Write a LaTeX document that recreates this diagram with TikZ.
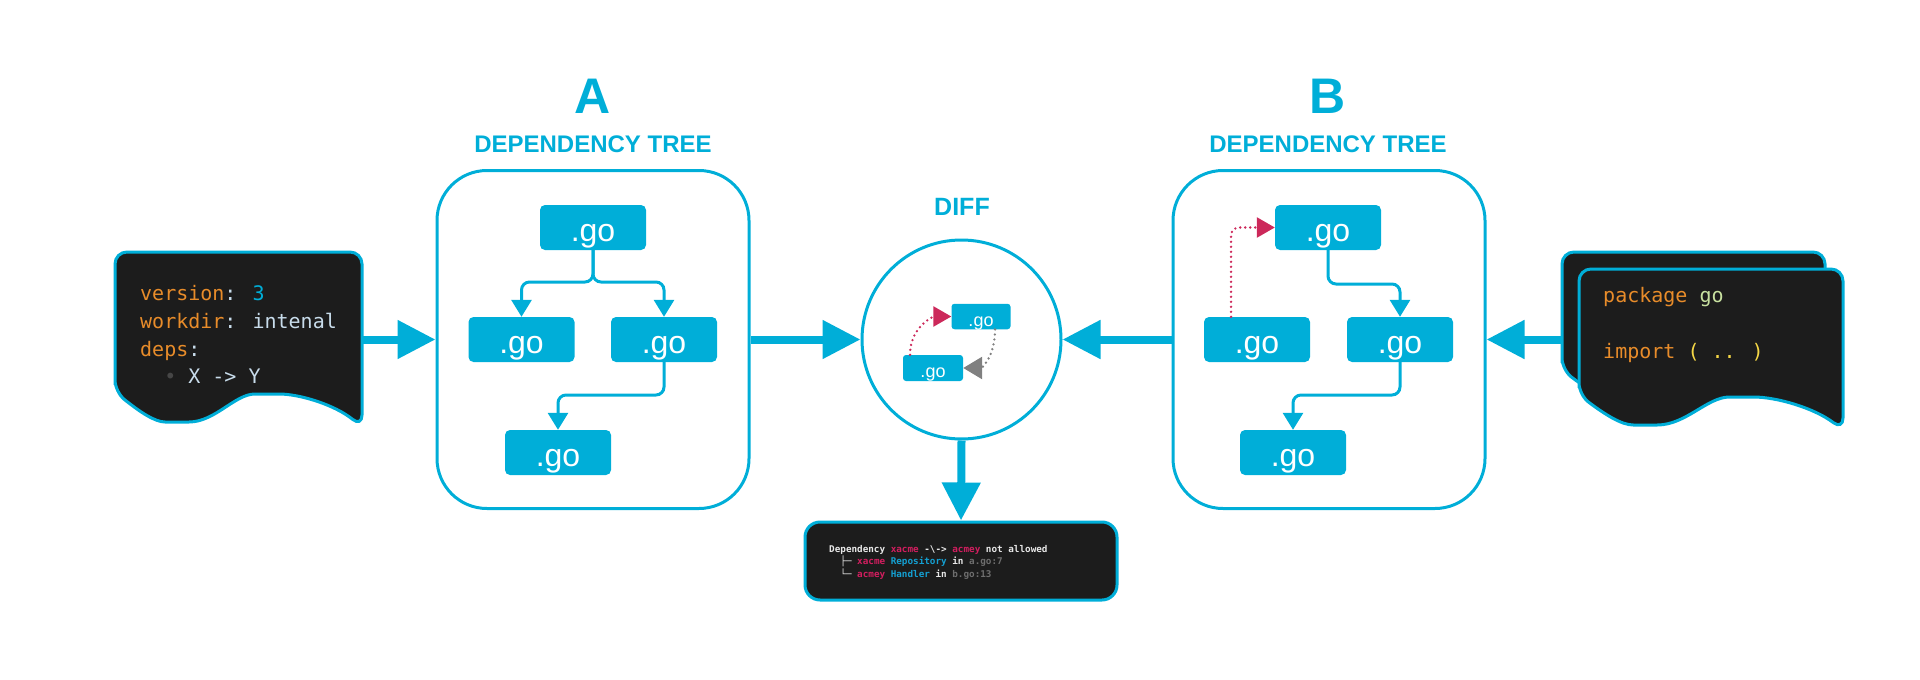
\documentclass[tikz,border=0pt]{standalone}
\usepackage{fontspec}
\setmainfont{Liberation Sans}
\newfontfamily\codefont{DejaVu Sans Mono}
\usetikzlibrary{arrows.meta}
\definecolor{cy}{RGB}{0,174,216}
\definecolor{dark}{RGB}{28,28,28}
\definecolor{mag}{RGB}{204,40,90}
\definecolor{grayarrow}{RGB}{128,128,128}
\definecolor{codeor}{RGB}{232,140,42}
\definecolor{codelb}{RGB}{200,220,235}
\definecolor{codegr}{RGB}{200,225,160}
\definecolor{codeye}{RGB}{245,215,70}
\definecolor{tw}{RGB}{232,232,232}
\definecolor{tmag}{RGB}{210,30,95}
\definecolor{tcy}{RGB}{20,160,210}
\definecolor{tgr}{RGB}{110,110,110}
\definecolor{bul}{RGB}{70,70,70}
\newcommand\docpath[1]{(0,#1) -- (0,0) -- (247,0) -- (247,#1+35) .. controls (220,#1+13) and (185,#1+2) .. (152,#1+2) .. controls (120,#1+2) and (100,#1+30) .. (62,#1+30) .. controls (40,#1+30) and (25,#1+20) .. (0,#1) -- cycle}
\begin{document}
\begin{tikzpicture}[x=1pt,y=-1pt,
  gonode/.style={fill=cy, rounded corners=5pt, minimum width=106pt, minimum height=45pt, inner sep=0pt, text=white, font=\fontsize{32}{32}\selectfont, text height=27pt, text depth=0pt},
  smallgo/.style={fill=cy, rounded corners=3pt, minimum width=59pt, minimum height=25.5pt, inner sep=0pt, text=white, font=\fontsize{18}{18}\selectfont, text height=19pt, text depth=0pt},
  treebox/.style={draw=cy, line width=3pt, rounded corners=50pt, minimum width=312pt, minimum height=338pt, inner sep=0pt},
  docstyle/.style={fill=dark, draw=cy, line width=3pt, rounded corners=12pt},
  treeline/.style={cy, line width=3pt, rounded corners=8pt, -{Triangle[length=17pt,width=20pt]}},
  bigarrow/.style={cy, line width=8pt, -{Triangle[length=38pt,width=37pt]}},
  magdot/.style={mag, line width=2.6pt, dash pattern=on 0pt off 5pt, line cap=round, rounded corners=8pt, -{Triangle[length=18pt,width=20pt]}},
  graydot/.style={grayarrow, line width=2.6pt, dash pattern=on 0pt off 5pt, line cap=round, -{Triangle[length=19pt,width=22pt]}},
  head/.style={text=cy, font=\bfseries\fontsize{24}{24}\selectfont, anchor=base, inner sep=0pt},
  bighead/.style={text=cy, font=\bfseries\fontsize{50}{50}\selectfont, anchor=base, inner sep=0pt},
  code/.style={anchor=base west, inner sep=0pt, font=\codefont\fontsize{20}{20}\selectfont},
  term/.style={anchor=base west, inner sep=0pt, font=\codefont\bfseries\fontsize{9.3}{9.3}\selectfont}
]
\useasboundingbox (0,0) rectangle (1920,680);

% left document
\begin{scope}[shift={(115,252)}]
  \draw[docstyle] \docpath{140};
\end{scope}
\coordinate (ldoc) at (362,339.5);
\node[code] (l1) at (140,300) {\color{codeor}version\color{codelb}: \color{cy}3};
\node[code] (l2) at (140,328) {\color{codeor}workdir\color{codelb}: intenal};
\node[code] (l3) at (140,356) {\color{codeor}deps\color{codelb}:};
\node[code] (l4) at (140,383) {\ \ \color{bul}• \color{codelb}X -> Y};

% right documents
\begin{scope}[shift={(1562,252)}, xscale=1.0648]
  \draw[docstyle] \docpath{118};
\end{scope}
\begin{scope}[shift={(1579,269)}, xscale=1.0688]
  \draw[docstyle] \docpath{126};
\end{scope}
\coordinate (rdoc) at (1562,339.5);
\node[code] (r1) at (1603,302) {\color{codeor}package \color{codegr}go};
\node[code] (r2) at (1603,358) {\color{codeor}import \color{codeye}( .. )};

% headings
\node[bighead] (hA) at (593,113) {A};
\node[head] (dA) at (593,152) {DEPENDENCY TREE};
\node[bighead] (hB) at (1328,113) {B};
\node[head] (dB2) at (1328,152) {DEPENDENCY TREE};
\node[head, font=\bfseries\fontsize{25}{25}\selectfont] (hD) at (962,215) {DIFF};

% boxes
\node[treebox] (boxA) at (593,339.5) {};
\node[treebox] (boxB) at (1329,339.5) {};
\node[circle, draw=cy, line width=3pt, minimum size=199pt, inner sep=0pt] (diff) at (961.5,339.5) {};

% tree A
\node[gonode] (aT) at (593,227.5) {.go};
\node[gonode] (aL) at (521.5,339.5) {.go};
\node[gonode] (aR) at (664,339.5) {.go};
\node[gonode] (aB) at (558,452.5) {.go};
\coordinate (aj) at (593,282);
\coordinate (ak) at (664,395);
\draw[treeline] (aT.south) -- (aj) -| (aL.north);
\draw[treeline] (aT.south) -- (aj) -| (aR.north);
\draw[treeline] (aR.south) -- (ak) -| (aB.north);

% tree B
\node[gonode] (bT) at (1328,227.5) {.go};
\node[gonode] (bL) at (1257,339.5) {.go};
\node[gonode] (bR) at (1400,339.5) {.go};
\node[gonode] (bB) at (1293,452.5) {.go};
\coordinate (bj) at (1328,284);
\coordinate (bk) at (1400,395);
\draw[treeline] (bT.south) -- (bj) -| (bR.north);
\draw[treeline] (bR.south) -- (bk) -| (bB.north);
\draw[magdot] ([xshift=-26pt]bL.north) |- (bT.west);

% diff inner
\node[smallgo] (dT) at (981,316.5) {.go};
\node[smallgo, minimum width=60pt, minimum height=26pt] (dBt) at (933,368) {.go};
\draw[magdot] ([xshift=-23pt]dBt.north) .. controls +(0,-28) and +(-18,0) .. (dT.west);
\draw[graydot] ([xshift=14pt]dT.south) .. controls +(0,28) and +(18,0) .. (dBt.east);

% terminal
\node[fill=dark, draw=cy, line width=3pt, rounded corners=15pt, minimum width=312pt, minimum height=78pt, inner sep=0pt] (termbox) at (961,561) {};
\node[term] (t1) at (829,552) {\color{tw}Dependency \color{tmag}xacme \color{tw}-\textbackslash-> \color{tmag}acmey \color{tw}not allowed};
\node[term] (t2) at (829,564.5) {\color{tw}\ \ ├─ \color{tmag}xacme \color{tcy}Repository \color{tw}in \color{tgr}a.go:7};
\node[term] (t3) at (829,577) {\color{tw}\ \ └─ \color{tmag}acmey \color{tcy}Handler \color{tw}in \color{tgr}b.go:13};

% big arrows
\draw[bigarrow] (ldoc) -- (boxA.west);
\draw[bigarrow] (boxA.east) -- (diff.west);
\draw[bigarrow] (boxB.west) -- (diff.east);
\draw[bigarrow] (rdoc) -- (boxB.east);
\draw[bigarrow] (diff.south) -- (termbox.north);
\end{tikzpicture}
\end{document}
